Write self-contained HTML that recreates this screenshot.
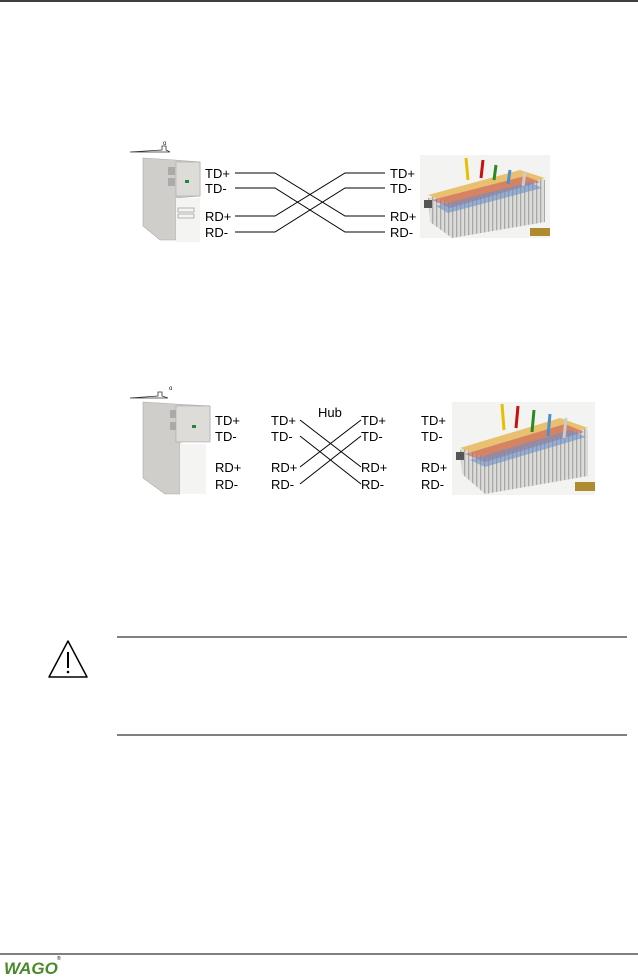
<!DOCTYPE html>
<html><head><style>
body{margin:0;width:638px;height:978px;background:#fff;position:relative;overflow:hidden;font-family:"Liberation Sans",sans-serif}
svg{position:absolute;left:0;top:0}
</style></head><body>
<svg width="638" height="978" viewBox="0 0 638 978" font-family="Liberation Sans, sans-serif">
<defs>
<pattern id="st" width="4" height="10" patternUnits="userSpaceOnUse"><rect width="4" height="10" fill="#dcdcda"/><rect width="1.3" height="10" fill="#a8a8a6"/></pattern>
</defs>
<line x1="0" y1="1" x2="638" y2="1" stroke="#000" stroke-width="1.5"/>
<!-- diagram 1 PC -->
<g>
<path d="M130 152 L162 150 L162 146 L166 146 L166 150 L170 152 Z" fill="none" stroke="#333" stroke-width="0.8"/>
<text x="163" y="145" font-size="6">o</text>
<path d="M143 158 L175 160 L200 162 L200 196 L176 198 L176 240 L160 240 L143 226 Z" fill="#d0cecb" stroke="#aaa" stroke-width="0.6"/>
<rect x="176" y="162" width="24" height="34" fill="#dedcd9" stroke="#999" stroke-width="0.5"/>
<rect x="168" y="167" width="7" height="8" fill="#aaa"/><rect x="168" y="178" width="7" height="8" fill="#aaa"/>
<rect x="185" y="180" width="4" height="3" fill="#1a8a3a"/>
<rect x="176" y="198" width="24" height="44" fill="#f4f4f2"/>
<rect x="178" y="208" width="16" height="4" fill="none" stroke="#777" stroke-width="0.5"/>
<rect x="178" y="214" width="16" height="4" fill="none" stroke="#777" stroke-width="0.5"/>
</g>
<g font-size="13" fill="#000">
<text x="205" y="178">TD+</text><text x="205" y="193">TD-</text><text x="205" y="221">RD+</text><text x="205" y="237">RD-</text>
<text x="390" y="178">TD+</text><text x="390" y="193">TD-</text><text x="390" y="221">RD+</text><text x="390" y="237">RD-</text>
</g>
<g stroke="#000" stroke-width="1" fill="none">
<polyline points="235,173 275,173 345,216 385,216"/>
<polyline points="235,188 275,188 345,232 385,232"/>
<polyline points="235,216 275,216 345,173 385,173"/>
<polyline points="235,232 275,232 345,188 385,188"/>
</g>
<!-- module 1 -->
<g>
<rect x="420" y="155" width="130" height="83" fill="#f3f3f1"/>
<path d="M428 198 L520 172 L545 180 L545 222 L452 238 L430 222 Z" fill="url(#st)"/>
<path d="M428 195 L520 170 L545 178 L455 205 Z" fill="#e8c070"/>
<path d="M432 200 L525 176 L540 182 L450 208 Z" fill="#c85a5a" opacity="0.6"/>
<path d="M436 206 L530 182 L542 188 L448 213 Z" fill="#6b8fc8" opacity="0.6"/>
<line x1="466" y1="158" x2="468" y2="180" stroke="#e6c000" stroke-width="3"/>
<line x1="483" y1="160" x2="481" y2="178" stroke="#c81010" stroke-width="3"/>
<line x1="496" y1="165" x2="494" y2="180" stroke="#2a8a20" stroke-width="3"/>
<line x1="510" y1="170" x2="508" y2="184" stroke="#4a90d0" stroke-width="3"/>
<line x1="525" y1="172" x2="523" y2="186" stroke="#ccc" stroke-width="3"/>
<rect x="424" y="200" width="8" height="8" fill="#555"/>
<rect x="530" y="228" width="20" height="8" fill="#b08a30"/>
</g>
<!-- diagram 2 PC -->
<g>
<path d="M130 398 L158 396 L158 392 L162 392 L162 396 L168 398 Z" fill="none" stroke="#333" stroke-width="0.8"/>
<text x="169" y="390" font-size="6">o</text>
<path d="M143 402 L175 404 L210 406 L210 440 L180 442 L180 494 L165 494 L143 478 Z" fill="#d0cecb" stroke="#aaa" stroke-width="0.6"/>
<rect x="176" y="406" width="34" height="36" fill="#dedcd9" stroke="#999" stroke-width="0.5"/>
<rect x="170" y="410" width="6" height="8" fill="#aaa"/><rect x="170" y="422" width="6" height="8" fill="#aaa"/>
<rect x="192" y="425" width="4" height="3" fill="#1a8a3a"/>
<rect x="180" y="444" width="26" height="50" fill="#f4f4f2"/>
</g>
<g font-size="13" fill="#000">
<text x="215" y="425">TD+</text><text x="215" y="441">TD-</text><text x="215" y="472">RD+</text><text x="215" y="489">RD-</text>
<text x="271" y="425">TD+</text><text x="271" y="441">TD-</text><text x="271" y="472">RD+</text><text x="271" y="489">RD-</text>
<text x="318" y="417">Hub</text>
<text x="361" y="425">TD+</text><text x="361" y="441">TD-</text><text x="361" y="472">RD+</text><text x="361" y="489">RD-</text>
<text x="421" y="425">TD+</text><text x="421" y="441">TD-</text><text x="421" y="472">RD+</text><text x="421" y="489">RD-</text>
</g>
<g stroke="#000" stroke-width="1" fill="none">
<line x1="300" y1="420" x2="361" y2="467"/>
<line x1="300" y1="436" x2="361" y2="484"/>
<line x1="300" y1="467" x2="361" y2="420"/>
<line x1="300" y1="484" x2="361" y2="436"/>
</g>
<!-- module 2 -->
<g>
<rect x="452" y="402" width="143" height="93" fill="#f3f3f1"/>
<path d="M460 450 L560 420 L588 430 L588 476 L485 494 L462 474 Z" fill="url(#st)"/>
<path d="M460 448 L560 418 L588 428 L488 458 Z" fill="#e8c070"/>
<path d="M465 454 L565 424 L584 432 L485 462 Z" fill="#c85a5a" opacity="0.6"/>
<path d="M470 460 L570 430 L586 437 L485 467 Z" fill="#6b8fc8" opacity="0.6"/>
<line x1="502" y1="404" x2="504" y2="430" stroke="#e6c000" stroke-width="3"/>
<line x1="518" y1="406" x2="516" y2="428" stroke="#c81010" stroke-width="3"/>
<line x1="534" y1="410" x2="532" y2="432" stroke="#2a8a20" stroke-width="3"/>
<line x1="550" y1="414" x2="548" y2="436" stroke="#4a90d0" stroke-width="3"/>
<line x1="566" y1="418" x2="564" y2="438" stroke="#ccc" stroke-width="3"/>
<rect x="456" y="452" width="8" height="8" fill="#555"/>
<rect x="575" y="482" width="20" height="9" fill="#b08a30"/>
</g>
<!-- warning -->
<path d="M68 641 L49 677 L87 677 Z" fill="none" stroke="#000" stroke-width="1.5" stroke-linejoin="round"/>
<line x1="68" y1="652" x2="68" y2="668" stroke="#000" stroke-width="2"/>
<circle cx="68" cy="672" r="1.3" fill="#000"/>
<line x1="117" y1="637" x2="627" y2="637" stroke="#000" stroke-width="1"/>
<line x1="117" y1="735" x2="627" y2="735" stroke="#000" stroke-width="1"/>
<!-- footer -->
<line x1="0" y1="954" x2="638" y2="954" stroke="#000" stroke-width="1"/>
<text x="4" y="974" font-size="17" font-weight="bold" font-style="italic" fill="#4a8a2a">WAGO</text>
<text x="57" y="960" font-size="5">®</text>
</svg>
</body></html>
